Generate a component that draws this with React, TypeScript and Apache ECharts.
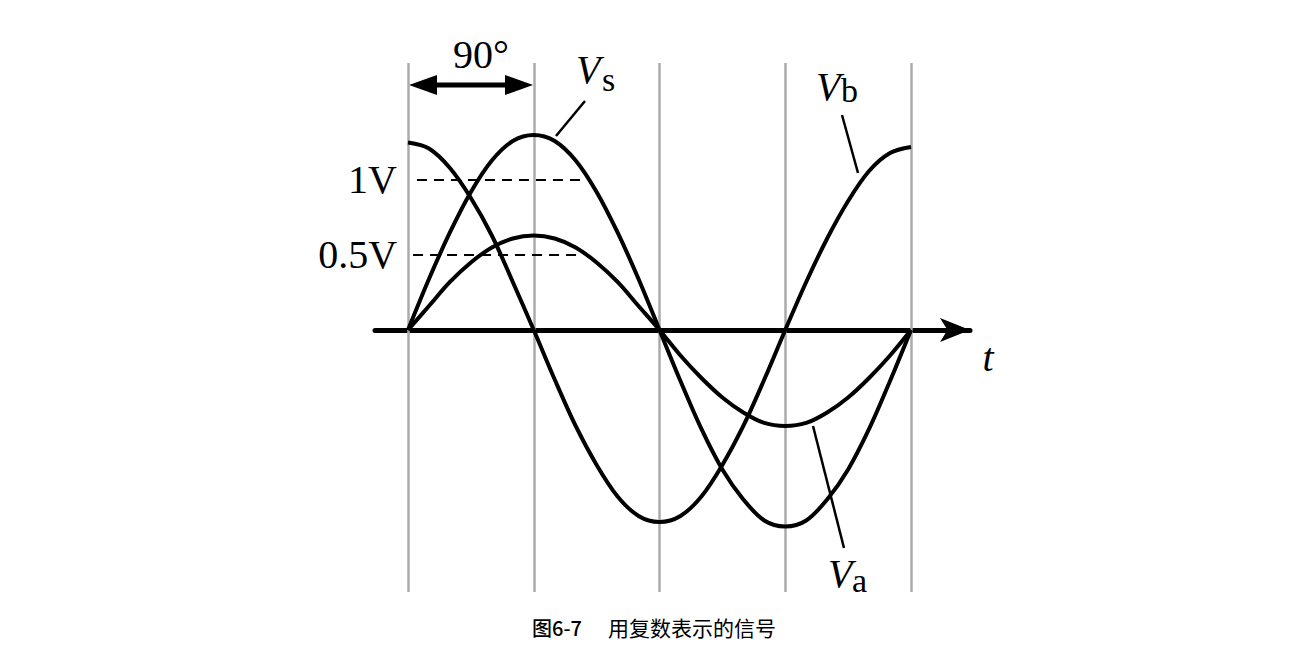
import React, { useEffect, useRef } from "react";
import * as echarts from "echarts";

// phase in degrees (x axis), values in volts
const PHASE = [0, 15, 30, 45, 60, 75, 90, 105, 120, 135, 150, 165, 180, 195, 210, 225, 240, 255, 270, 285, 300, 315, 330, 345, 360];
const VS = [0, 0.34, 0.65, 0.92, 1.13, 1.26, 1.3, 1.26, 1.13, 0.92, 0.65, 0.34, 0, -0.34, -0.66, -0.93, -1.13, -1.27, -1.31, -1.27, -1.13, -0.93, -0.66, -0.34, 0];
const VB = [1.25, 1.21, 1.08, 0.88, 0.63, 0.32, 0, -0.33, -0.64, -0.9, -1.11, -1.24, -1.28, -1.24, -1.11, -0.9, -0.64, -0.33, 0, 0.32, 0.61, 0.86, 1.06, 1.18, 1.22];
const VA = [0, 0.16, 0.32, 0.45, 0.55, 0.61, 0.63, 0.61, 0.55, 0.45, 0.32, 0.16, 0, -0.17, -0.32, -0.45, -0.55, -0.62, -0.64, -0.62, -0.55, -0.45, -0.32, -0.17, 0];
const GRID_PHASES = [0, 90, 180, 270, 360];
const LEVELS = [
  { value: 1, label: "1V", from: 6.4, to: 125.3 },
  { value: 0.5, label: "0.5V", from: 3.6, to: 125.3 },
];
const CAPTION_NO = "图6-7";
const CAPTION = "用复数表示的信号";

const SERIF = "'Liberation Serif', 'Times New Roman', serif";

function pairs(ys: number[]) {
  return PHASE.map((p, i) => [p, ys[i]]);
}

export default function App() {
  const ref = useRef<HTMLDivElement>(null);
  useEffect(() => {
    const chart = echarts.init(ref.current!, null, { renderer: "svg" });
    const curve = (name: string, ys: number[]) => ({
      name,
      type: "line",
      data: pairs(ys),
      smooth: 0.33,
      showSymbol: false,
      silent: true,
      z: 5,
      lineStyle: { color: "#000", width: 4 },
    });
    const vText = (x: number, y: number, text: string, italic: boolean, size: number) => ({
      type: "text",
      x,
      y,
      style: {
        text,
        fontFamily: SERIF,
        fontStyle: italic ? "italic" : "normal",
        fontSize: size,
        fill: "#000",
        align: "left",
        verticalAlign: "middle",
      },
    });
    const leader = (x1: number, y1: number, x2: number, y2: number) => ({
      type: "line",
      shape: { x1, y1, x2, y2 },
      style: { stroke: "#000", lineWidth: 2.5 },
    });
    chart.setOption({
      animation: false,
      grid: { left: 375, right: 340, top: 63, bottom: 66 },
      xAxis: {
        type: "value",
        min: -23.62,
        max: 402.23,
        axisLine: {
          onZero: true,
          lineStyle: { color: "#000", width: 5 },
          symbol: ["none", "arrow"],
          symbolSize: [18, 30],
        },
        axisTick: { show: false },
        axisLabel: { show: false },
        splitLine: { show: false },
      },
      yAxis: {
        type: "value",
        min: -1.747,
        max: 1.78,
        show: false,
        splitLine: { show: false },
      },
      series: [
        {
          type: "line",
          data: [],
          z: 1,
          markLine: {
            silent: true,
            symbol: "none",
            animation: false,
            label: { show: false },
            lineStyle: { color: "#ababab", width: 2.5, type: "solid" },
            data: GRID_PHASES.map((p) => ({ xAxis: p })),
          },
        },
        {
          type: "line",
          data: [],
          z: 3,
          markLine: {
            silent: true,
            symbol: "none",
            animation: false,
            lineStyle: { color: "#000", width: 2.2, type: [10, 7] },
            label: {
              show: true,
              position: "start",
              fontFamily: SERIF,
              fontSize: 40,
              color: "#000",
            },
            data: LEVELS.map((l) => [
              {
                coord: [l.from, l.value],
                label: { formatter: l.label, distance: l.value === 1 ? 20 : 16 },
              },
              { coord: [l.to, l.value] },
            ]),
          },
        },
        curve("Vs", VS),
        curve("Vb", VB),
        curve("Va", VA),
      ],
      graphic: [
        // 90° arrow
        {
          type: "line",
          shape: { x1: 430, y1: 85, x2: 512, y2: 85 },
          style: { stroke: "#000", lineWidth: 5 },
        },
        { type: "polygon", shape: { points: [[409, 85], [437, 75], [437, 95]] }, style: { fill: "#000" } },
        { type: "polygon", shape: { points: [[533, 85], [505, 75], [505, 95]] }, style: { fill: "#000" } },
        {
          type: "text",
          x: 481,
          y: 54,
          style: { text: "90°", fontFamily: SERIF, fontSize: 40, fill: "#000", align: "center", verticalAlign: "middle" },
        },
        // Vs label
        vText(576, 69.5, "V", true, 40),
        vText(602, 79, "s", false, 34),
        leader(585, 101, 556, 136),
        // Vb label
        vText(816, 86, "V", true, 40),
        vText(841, 90, "b", false, 34),
        leader(842, 115, 858, 173),
        // Va label
        vText(828, 573, "V", true, 40),
        vText(852, 580, "a", false, 34),
        leader(813, 426, 844, 548),
        // t
        {
          type: "text",
          x: 988,
          y: 357,
          style: { text: "t", fontFamily: SERIF, fontStyle: "italic", fontSize: 40, fill: "#000", align: "center", verticalAlign: "middle" },
        },
        // caption
        {
          type: "text",
          x: 532,
          y: 627,
          style: { text: CAPTION_NO, fontFamily: "'Noto Sans CJK SC', sans-serif", fontSize: 20, fontWeight: 500, fill: "#000", align: "left", verticalAlign: "middle" },
        },
        {
          type: "text",
          x: 608,
          y: 627,
          style: { text: CAPTION, fontFamily: "'Noto Sans CJK SC', sans-serif", fontSize: 21, fill: "#000", align: "left", verticalAlign: "middle" },
        },
      ],
    });
    return () => chart.dispose();
  }, []);
  return (
    <div
      ref={ref}
      style={{ position: "fixed", left: 0, top: 0, width: 1310, height: 658, background: "#fff" }}
    />
  );
}
